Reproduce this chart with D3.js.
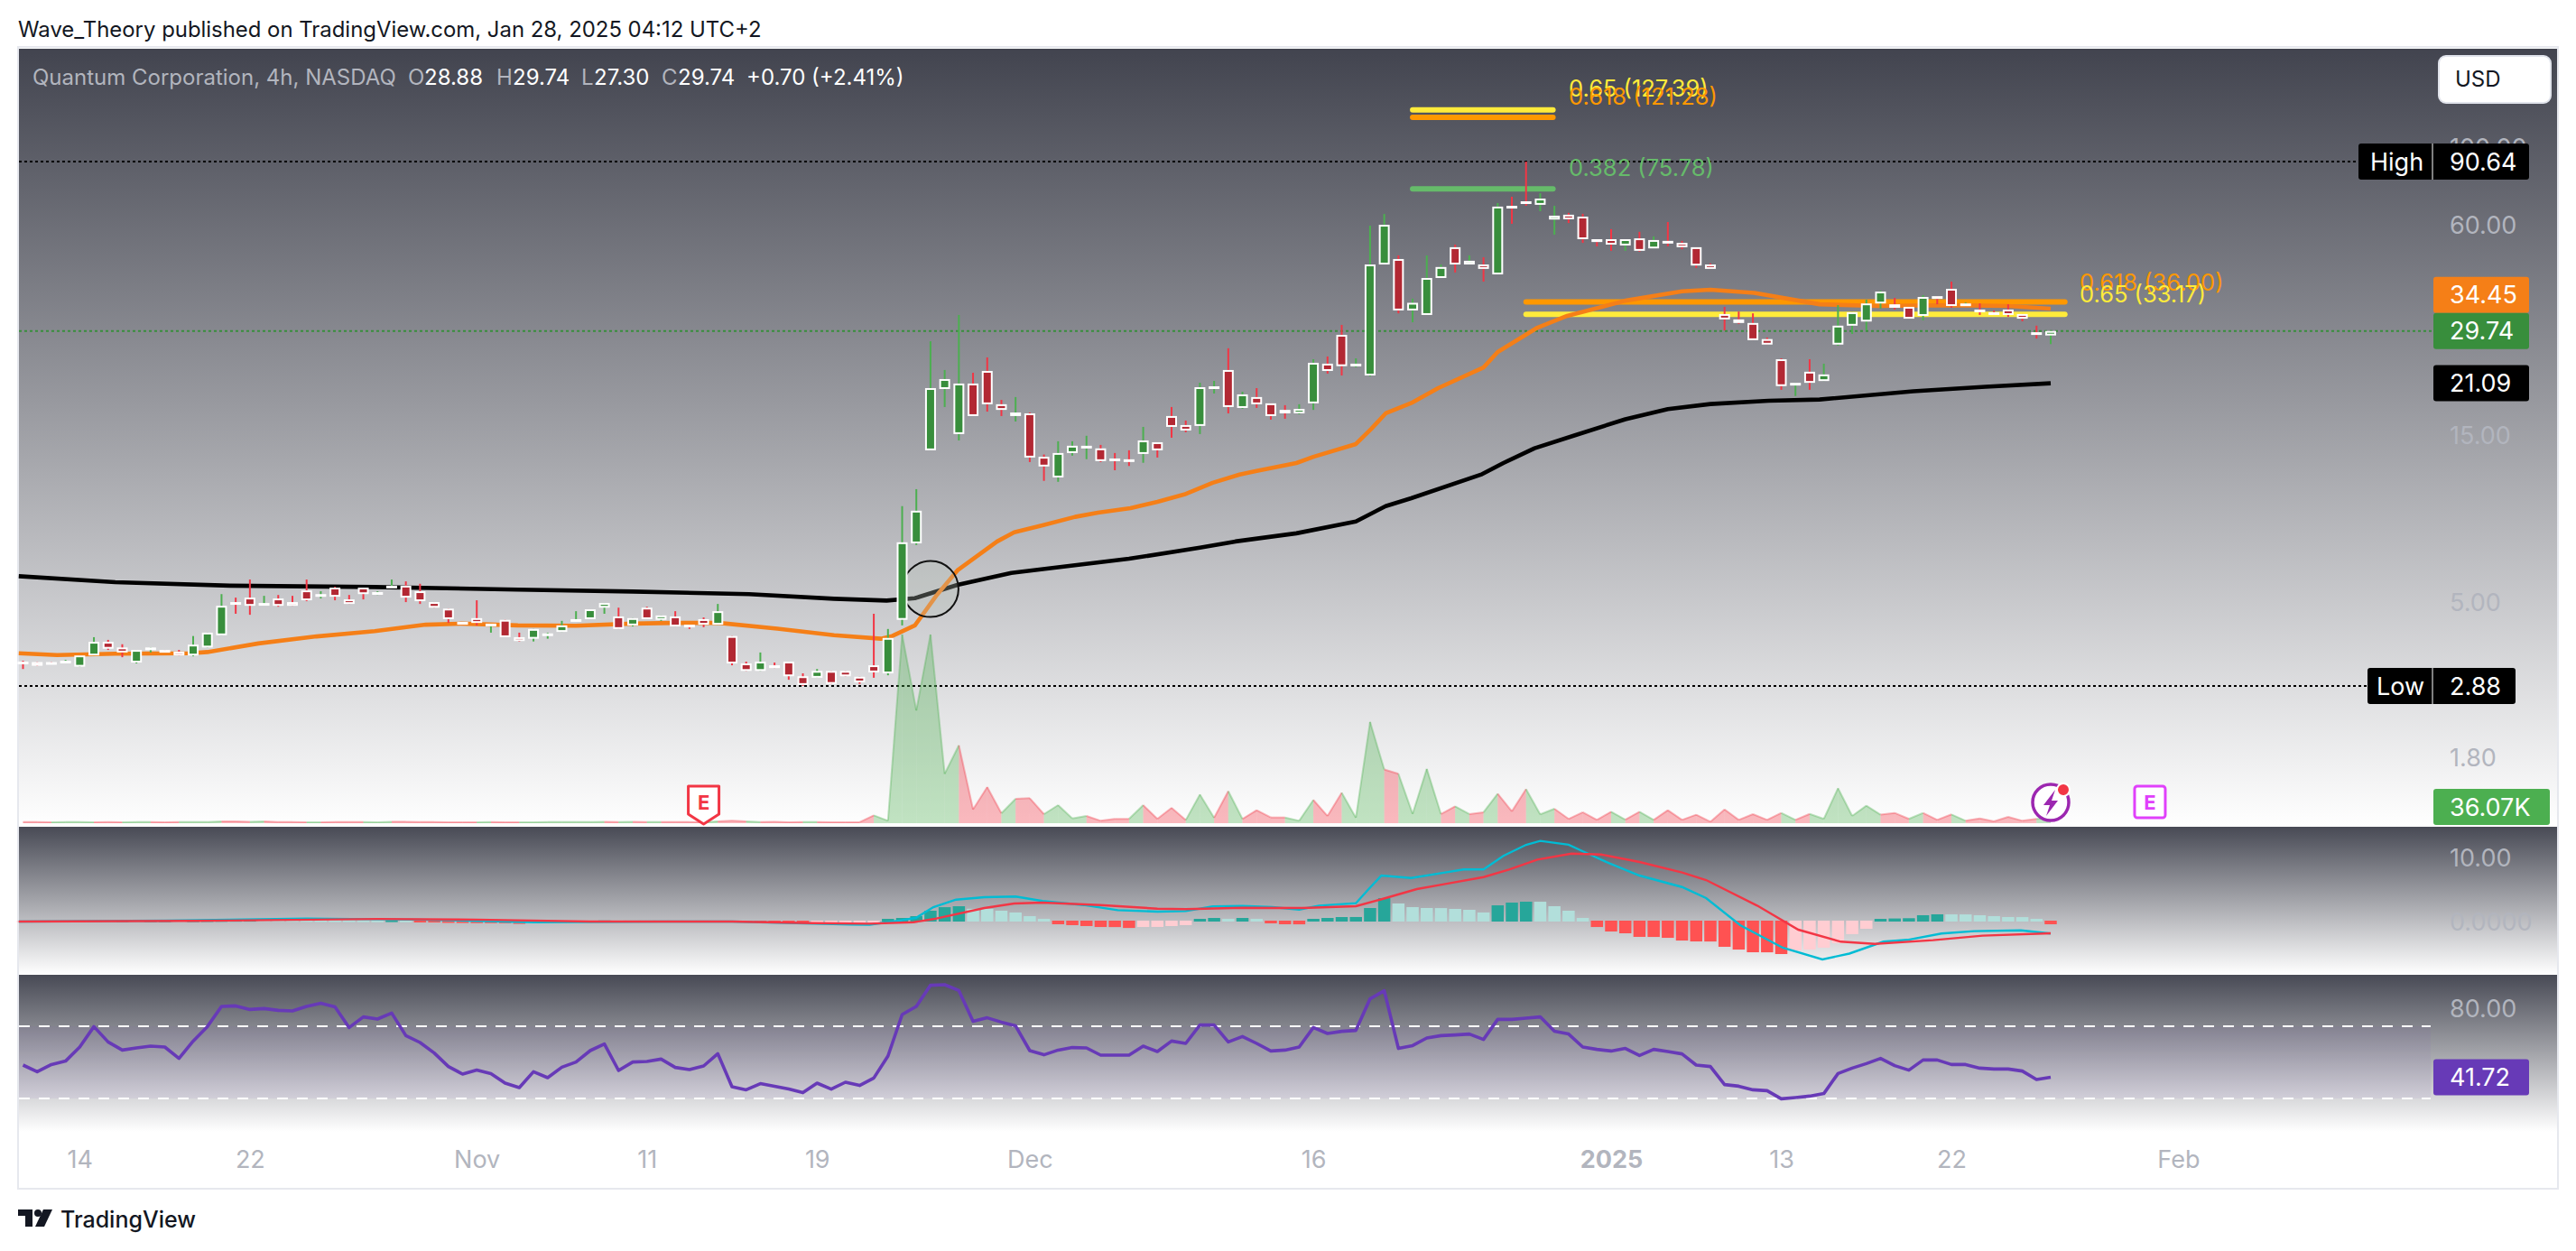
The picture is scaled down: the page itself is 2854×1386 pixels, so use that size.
<!DOCTYPE html>
<html>
<head>
<meta charset="utf-8">
<script src="https://cdn.jsdelivr.net/npm/d3@7/dist/d3.min.js"></script>
<style>
  body { margin: 0; background: #fff; }
  svg { display: block; font-family: Inter, "Liberation Sans", sans-serif; }
</style>
</head>
<body>
<script>
// QMCO 4h candles
var opens = [3.38,3.37,3.37,3.38,3.27,3.52,3.85,3.71,3.36,3.65,3.65,3.61,3.52,3.71,4.02,5.00,5.15,4.91,5.12,5.00,
  5.40,5.21,5.50,5.09,5.50,5.27,5.50,5.57,5.37,5.00,4.79,4.39,4.50,4.29,4.45,3.97,3.93,4.02,4.11,4.42,
  4.47,4.82,4.55,4.29,4.82,4.45,4.55,4.31,4.47,4.31,4.00,3.34,3.18,3.30,3.38,3.07,3.04,3.18,3.18,3.06,
  3.30,3.13,4.45,7.36,13.57,20.31,15.10,21.05,22.87,18.37,17.00,17.30,13.00,11.35,13.33,13.80,13.74,12.86,12.79,13.25,
  14.31,17.00,16.02,15.93,20.31,23.01,17.93,19.26,18.48,17.70,17.30,18.48,23.99,29.00,23.70,22.20,46.06,47.75,34.05,33.05,
  42.15,51.60,46.06,46.06,43.15,67.75,69.80,68.20,61.90,63.90,63.10,54.40,54.40,52.20,54.70,51.20,53.80,53.10,51.60,46.06,
  33.25,32.10,31.35,28.20,24.70,20.90,22.75,21.40,27.20,30.80,31.65,35.65,35.45,34.86,32.85,37.40,39.25,35.25,34.25,33.65,
  34.25,33.25,29.50,28.88];
var highs = [3.40,3.37,3.37,3.42,3.52,3.97,3.90,3.79,3.65,3.71,3.65,3.65,4.00,4.09,5.27,5.15,5.80,5.21,5.24,5.21,
  5.80,5.37,5.53,5.24,5.50,5.37,5.80,5.73,5.64,5.00,4.79,4.39,5.06,4.34,4.45,4.09,4.19,4.09,4.42,4.71,
  4.77,4.97,4.82,4.50,4.85,4.58,4.71,4.31,4.52,4.94,4.00,3.38,3.59,3.36,3.38,3.13,3.22,3.18,3.18,3.06,
  4.63,4.19,9.40,10.51,27.80,23.01,33.05,22.60,25.00,18.90,19.26,17.40,13.20,14.40,14.40,14.93,14.06,13.33,13.57,15.83,
  14.31,18.04,16.50,21.17,21.42,26.55,19.95,20.43,18.48,18.26,18.37,24.70,25.15,30.96,24.85,59.46,64.20,48.90,36.80,48.90,
  46.06,52.50,48.90,48.30,69.00,71.90,90.64,73.60,67.75,64.70,64.30,54.40,58.10,54.40,57.10,55.40,60.90,53.80,51.60,46.40,
  34.86,33.80,33.40,28.50,24.85,21.15,24.70,23.99,35.25,33.65,36.55,38.80,36.99,34.86,37.65,37.40,41.15,35.85,35.65,34.05,
  35.45,33.25,30.80,29.74];
var lows = [3.22,3.29,3.35,3.38,3.27,3.52,3.65,3.48,3.34,3.59,3.59,3.52,3.50,3.71,4.02,4.63,4.60,4.91,4.85,4.88,
  5.03,5.12,5.06,4.94,5.09,5.24,5.50,5.00,4.94,4.82,4.36,4.31,4.29,4.09,3.97,3.86,3.86,3.93,4.11,4.42,
  4.47,4.63,4.19,4.26,4.47,4.42,4.26,4.19,4.24,4.31,3.30,3.18,3.18,3.24,3.00,2.88,3.04,2.92,3.07,2.92,
  3.04,3.09,4.29,7.28,13.57,18.04,14.48,17.00,17.50,17.00,16.40,12.56,11.10,11.03,13.10,12.80,12.56,11.90,12.24,12.50,
  12.94,14.74,15.28,15.10,19.72,17.30,17.82,17.93,16.60,16.70,17.20,17.70,22.47,22.20,23.42,22.07,46.06,33.40,31.50,33.05,
  42.15,43.70,46.06,41.15,43.15,60.20,67.75,65.40,56.04,60.50,53.10,51.90,50.40,50.40,50.10,51.20,51.90,50.90,45.00,44.75,
  29.85,31.15,28.00,27.20,20.20,19.40,20.20,21.40,27.00,29.17,29.85,34.45,34.25,32.25,31.90,35.45,34.65,35.05,33.05,33.05,
  32.65,31.70,28.30,27.30];
var closes = [3.36,3.29,3.35,3.40,3.52,3.85,3.68,3.59,3.65,3.71,3.59,3.52,3.78,4.09,4.88,4.94,4.88,4.97,4.88,4.88,
  5.06,5.27,5.18,4.94,5.27,5.34,5.57,5.15,5.03,4.82,4.47,4.31,4.36,4.34,3.97,3.87,4.19,4.07,4.29,4.47,
  4.77,4.97,4.19,4.50,4.47,4.58,4.26,4.26,4.31,4.71,3.34,3.18,3.38,3.24,3.07,2.90,3.18,2.92,3.07,2.95,
  3.15,3.95,7.41,9.12,20.43,21.68,21.05,17.00,18.37,17.70,17.40,12.94,12.20,13.33,13.98,13.98,12.64,12.64,12.64,14.48,
  13.57,15.83,15.46,20.55,20.67,18.04,19.60,18.37,17.00,17.30,17.82,24.13,22.87,23.60,23.99,46.06,59.80,34.05,35.80,42.15,
  45.30,46.06,47.20,44.75,67.40,66.96,69.00,71.05,63.50,62.00,54.40,53.40,52.50,54.40,50.40,54.10,53.10,51.60,45.75,44.75,
  32.10,31.35,28.00,27.20,20.70,21.15,21.15,22.35,30.80,33.65,35.65,38.55,34.65,32.25,37.20,36.99,35.05,35.65,33.85,33.05,
  33.05,32.25,29.17,29.74];
// volume in thousands of shares
var volumes = [9,9,7,9,9,7,9,7,9,9,7,9,9,9,13,14,11,13,9,9,
  7,7,9,9,9,7,11,11,9,9,7,7,7,9,7,7,7,9,9,9,
  9,11,9,11,9,9,9,9,7,14,18,14,9,11,7,9,9,7,7,7,
  59,18,1421,849,1421,372,586,104,272,75,184,188,68,136,36,54,18,32,32,136,
  32,116,23,216,41,241,32,98,43,43,18,175,54,229,41,763,404,372,70,409,
  68,127,68,82,222,89,257,66,109,32,82,25,86,27,86,25,98,25,64,11,
  104,25,68,25,77,25,70,32,263,54,132,64,77,32,77,25,66,18,36,14,
  48,18,32,36.07];

var emaFastBars = [-0.3,2.4,6.5,11.8,13,16.6,20.7,24.8,28.4,30.9,34.9,39,43,45.9,49.1,53.2,57.2,60.5,61.3,62.9,
  64.4,65.9,68.7,69.9,71.9,74.2,75.8,78.1,80,81.9,83.9,85.8,87,89.8,91,94,95.1,96.1,98,99.8,
  103,104,106.8,108.9,113,117,119,122.1,126.7,130.8,135.9,140,143];
var emaFast = [3.57,3.53,3.56,3.57,3.60,3.81,3.99,4.13,4.31,4.34,4.29,4.28,4.34,4.36,4.36,4.20,4.02,3.93,4.00,4.29,
  5.21,6.16,7.45,7.91,8.29,8.76,9.00,9.27,9.67,10.15,10.96,11.57,11.85,12.48,13.00,14.14,15.65,17.30,18.60,20.43,
  23.40,25.90,30.40,32.85,36.30,38.60,39.00,38.20,35.45,35.05,35.25,35.05,34.45];
var emaSlowBars = [-0.3,6.5,14.6,24.8,34.9,43,51.2,57.2,60.9,62.9,65.9,69.7,72.2,78,83,85.5,89.8,94,96.1,97.9,
  102.9,104.4,106.6,109.5,113,116,119,123.1,126.7,133.3,138.4,143];
var emaSlow = [5.93,5.70,5.57,5.52,5.43,5.36,5.27,5.11,5.05,5.13,5.60,6.06,6.23,6.65,7.15,7.45,7.86,8.50,9.40,9.90,
  11.60,12.48,13.75,15.00,16.65,17.80,18.40,18.80,18.95,20.00,20.60,21.09];

var histValues = [-0.04,-0.04,-0.03,-0.02,0.01,0.02,0.02,0.03,0.03,0.04,0.05,0.05,0.06,0.08,0.10,0.12,0.13,
  0.12,0.11,0.10,0.09,0.08,0.07,0.06,0.05,0.03,0.06,0.03,
  -0.1,-0.14,-0.2,-0.22,-0.24,-0.25,-0.27,-0.36,-0.2,-0.12,-0.08,-0.06,-0.04,
  0.03,0.03,0.03,0.02,0.02,0.02,0.02,0.01,0.01,
  -0.05,-0.1,-0.12,-0.15,-0.17,-0.2,-0.18,-0.17,-0.16,-0.15,-0.12,
  0.28,0.42,0.7,1.55,2.1,2.25,1.85,1.83,1.55,1.27,0.7,0.28,-0.42,-0.56,-0.7,-0.85,-0.86,-1.0,-0.85,-0.84,
  -0.7,-0.56,0.28,0.42,0.28,0.42,0.28,-0.28,-0.42,-0.43,0.28,0.42,0.56,0.57,1.97,3.52,2.68,2.11,1.97,1.96,
  1.83,1.69,1.27,2.39,2.82,2.96,2.95,2.25,1.55,0.42,-0.85,-1.55,-1.83,-2.39,-2.4,-2.54,-2.96,-3.1,-3.11,-3.94,
  -4.37,-4.79,-4.8,-5.07,-4.5,-4.37,-4.08,-3.38,-1.97,-1.13,0.28,0.34,0.38,0.85,0.99,0.98,0.97,0.84,0.7,0.56,0.55,0.28,-0.42];

var macdBars = [-0.3,10,20,28,36,45,50,58.4,59.7,61.8,63,64.2,65.8,67.8,70,71.9,74.8,77.2,80,82,
  83.9,86,88.1,90,91.4,94,94.8,95.8,97.9,100.3,101.6,103,104.4,106,107,109,110.5,111.9,114,117,
  118.7,121.1,124.1,126.9,128.8,131.2,132.9,135.3,137.6,140.9,143];
var macdLine = [0,0.15,0.47,0.3,-0.1,0,0,-0.47,-0.5,0.14,0.6,2.25,3.42,3.8,3.9,3.2,2.58,1.78,1.55,1.64,
  2.35,2.44,2.25,1.87,2.49,2.86,4.83,7.18,6.8,7.65,8.13,8.13,10.24,11.97,12.58,12,10.46,9.06,7.18,5.39,
  3.66,-0.56,-4.08,-5.9,-5,-3.14,-2.86,-1.87,-1.5,-1.37,-1.87];
var signalBars = [-0.3,12,25,32,40,50,55.7,59.7,62.8,64.2,67.8,69.9,71.9,76,80,82,86,90.2,94,95.7,
  98.3,100.3,103,104.8,106.8,109.2,111.3,114,117,118.7,122.3,125.2,128.2,130.6,134.7,138.2,143];
var signalLine = [0,0.1,0.4,0.3,0,0,-0.24,-0.33,-0.1,0.38,2.11,2.82,2.96,2.58,2.01,1.93,2.15,2.11,2.39,3.42,
  5.07,5.87,6.94,8.13,9.67,10.6,10.46,9.3,7.65,6.48,2.49,-1.27,-3.14,-3.48,-2.9,-2.2,-1.83];

var rsiValues = [48.5,44.8,48.8,50.7,58.5,69.8,61.3,56.8,58,59,58.5,52.2,61.8,69.8,81,81.3,79.3,79.8,78.8,78.5,
  81,82.8,80.8,69.3,75.2,74,77.3,64.8,61,55.2,47.7,43.5,45.7,43.8,38.5,36,44.8,41.5,47.3,50.2,
  56.5,60.2,45.5,50.2,50.5,51.8,47.2,46,48,54.8,36.5,34.8,38.2,36.8,35.2,33.2,38.5,35.2,39,37.2,
  41.3,53.5,76.5,81,92.7,93,89.8,72.7,74.7,72.3,70.2,56.5,54.2,56.8,58.2,58,54,54,54,59,
  56,61.8,60.5,70.7,70.7,61.3,64.3,60.5,56.3,56.8,58.5,69.3,66,67.2,67.7,85.2,89.7,57.7,59.3,63.5,
  64.8,65.2,65.7,62.7,73.8,73.8,74.5,75.2,67.2,65.7,58.5,57.2,56.3,57.7,53.8,57.2,56,54.7,48.5,47.7,
  37.7,36.8,34.8,34.3,29.8,30.5,31.3,32.7,43.8,46.8,49.3,52.2,48.2,45.7,51.3,51.3,48.8,48.8,46.8,46.3,
  46.3,45.2,40.5,41.72];

var priceTicks = [100, 60, 20, 15, 5, 1.8];
var macdTicks = [10, 0];
var rsiTicks = [80];
var timeTickBars = [4, 16, 32, 44, 56, 71, 91, 112, 124, 136, 152];
var timeTickLabels = ["14", "22", "Nov", "11", "19", "Dec", "16", "2025", "13", "22", "Feb"];

var fibLabels = ["0.65 (127.39)", "0.618 (121.28)", "0.382 (75.78)", "0.618 (36.00)", "0.65 (33.17)"];
var fibValues = [127.39, 121.28, 75.78, 36.00, 33.17];
var fibFrom = [98, 98, 98, 106, 106];
var fibTo = [107.9, 107.9, 107.9, 144, 144];
var fibColors = ["#ffeb3b", "#ff9800", "#66bb6a", "#ff9800", "#ffeb3b"];

var barIndex = d3.range(opens.length);
var W = 2854, H = 1386;
var left = 20, right = 2833, axisX = 2714;
var main = { top: 54, bottom: 916 }, macdPane = { top: 916, bottom: 1080 }, rsiPane = { top: 1080, bottom: 1254 };

var x = d3.scaleLinear().domain([0, 143]).range([25.5, 2272]);
var y = d3.scaleLog().domain([90.64, 2.88]).range([179, 760]);
var yVol = d3.scaleLinear().domain([0, 1421]).range([912, 703]);
var yMacd = d3.scaleLinear().domain([0, 10]).range([1021, 950]);
var yRsi = d3.scaleLinear().domain([30, 70]).range([1217, 1137]);

var svg = d3.select("body").append("svg").attr("width", W).attr("height", H);
var defs = svg.append("defs");

function paneGradient(id, from) {
    var g = defs.append("linearGradient").attr("id", id).attr("x1", 0).attr("y1", 0).attr("x2", 0).attr("y2", 1);
    g.append("stop").attr("offset", 0).attr("stop-color", from);
    g.append("stop").attr("offset", 1).attr("stop-color", "#ffffff");
}
paneGradient("mainBg", "#42444f");
paneGradient("macdBg", "#484a55");
paneGradient("rsiBg", "#484a55");

svg.append("rect").attr("width", W).attr("height", H).attr("fill", "#fff");
svg.append("rect").attr("x", left).attr("y", 52).attr("width", right - left + 1).attr("height", 1265)
    .attr("fill", "none").attr("stroke", "#e6e8ee").attr("stroke-width", 2);

svg.append("rect").attr("x", left + 1).attr("y", main.top).attr("width", right - left - 1).attr("height", main.bottom - main.top).attr("fill", "url(#mainBg)");
svg.append("rect").attr("x", left + 1).attr("y", macdPane.top).attr("width", right - left - 1).attr("height", macdPane.bottom - macdPane.top).attr("fill", "url(#macdBg)");
svg.append("rect").attr("x", left + 1).attr("y", rsiPane.top).attr("width", right - left - 1).attr("height", rsiPane.bottom - rsiPane.top).attr("fill", "url(#rsiBg)");

// price scale labels sit under the coloured boxes
function drawAxis(axis) {
    var g = svg.append("g").attr("transform", "translate(" + axisX + ",1)").call(axis);
    g.select(".domain").remove();
    g.selectAll("text").attr("fill", "#b2b5be").attr("font-size", 27).attr("font-family", "Inter").attr("x", 0);
    return g;
}
drawAxis(d3.axisRight(y).tickValues(priceTicks).tickSize(0).tickFormat(d3.format(".2f")));
drawAxis(d3.axisRight(yMacd).tickValues(macdTicks).tickSize(0).tickFormat(d => d === 0 ? "0.0000" : d3.format(".2f")(d)));
drawAxis(d3.axisRight(yRsi).tickValues(rsiTicks).tickSize(0).tickFormat(d3.format(".2f")));

var timeAxis = svg.append("g").attr("transform", "translate(0,1272)")
    .call(d3.axisBottom(x).tickValues(timeTickBars).tickSize(0).tickFormat((d, i) => timeTickLabels[i]));
timeAxis.select(".domain").remove();
timeAxis.selectAll("text").attr("fill", "#b2b5be").attr("font-size", 27).attr("font-family", "Inter")
    .attr("font-weight", d => d === 112 ? 700 : 400);

// dotted high / low / last price lines
function dotted(value, toX, color) {
    svg.append("line").attr("x1", left + 1).attr("x2", toX).attr("y1", y(value)).attr("y2", y(value))
        .attr("stroke", color).attr("stroke-width", 2).attr("stroke-dasharray", "3 3");
}
dotted(90.64, 2613, "#000");
dotted(2.88, 2623, "#000");
dotted(29.74, 2696, "#388e3c");

// volume area, one segment per bar, coloured by that bar's candle
var volArea = d3.area().x(d => x(d)).y0(yVol(0)).y1(d => yVol(volumes[d]));
var volLine = d3.line().x(d => x(d)).y(d => yVol(volumes[d]));
var volSegs = barIndex.slice(1).map(i => ({ pts: [i - 1, i], up: closes[i] >= opens[i] }));
svg.append("g").selectAll("path").data(volSegs).enter().append("path")
    .attr("d", d => volArea(d.pts))
    .attr("fill", d => d.up ? "#4caf50" : "#f23645")
    .attr("fill-opacity", 0.35);
svg.append("g").selectAll("path").data(volSegs).enter().append("path")
    .attr("d", d => volLine(d.pts))
    .attr("fill", "none")
    .attr("stroke", d => d.up ? "#4caf50" : "#f23645")
    .attr("stroke-opacity", 0.35)
    .attr("stroke-width", 2);

// fib levels
svg.append("g").selectAll("line").data(fibValues).enter().append("line")
    .attr("x1", (d, i) => x(fibFrom[i]))
    .attr("x2", (d, i) => x(fibTo[i]))
    .attr("y1", d => y(d))
    .attr("y2", d => y(d))
    .attr("stroke", (d, i) => fibColors[i])
    .attr("stroke-width", 6)
    .attr("stroke-linecap", "round");
var fibText = [[1738, 98], [1738, 107], [1738, 186], [2304, 313], [2304, 326]];
svg.append("g").selectAll("text").data(fibLabels).enter().append("text")
    .attr("x", (d, i) => fibText[i][0])
    .attr("y", (d, i) => fibText[i][1])
    .attr("dy", "0.36em")
    .attr("font-size", 25.5)
    .attr("fill", (d, i) => fibColors[i])
    .text(d => d);

// emas
var emaLine = d3.line().x(d => x(d[0])).y(d => y(d[1]));
svg.append("path").datum(d3.zip(emaSlowBars, emaSlow)).attr("d", emaLine).attr("fill", "none")
    .attr("stroke", "#000").attr("stroke-width", 4.6).attr("stroke-linejoin", "round");
svg.append("path").datum(d3.zip(emaFastBars, emaFast)).attr("d", emaLine).attr("fill", "none")
    .attr("stroke", "#f57f17").attr("stroke-width", 4.6).attr("stroke-linejoin", "round");

// circle annotation at the crossing
svg.append("circle").attr("cx", x(64)).attr("cy", y(5.45)).attr("r", 31)
    .attr("fill", "#b9c4bb").attr("fill-opacity", 0.3).attr("stroke", "#111").attr("stroke-width", 2);

// candles
var candles = svg.append("g").selectAll("g").data(barIndex).enter().append("g");
candles.append("line")
    .attr("x1", d => x(d)).attr("x2", d => x(d))
    .attr("y1", d => y(highs[d])).attr("y2", d => y(lows[d]))
    .attr("stroke", d => closes[d] >= opens[d] ? "#4caf50" : "#f23645")
    .attr("stroke-width", 2);
function bodyTop(d) { return y(Math.max(opens[d], closes[d])); }
function bodyH(d) { return Math.max(3, y(Math.min(opens[d], closes[d])) - bodyTop(d)); }
candles.append("rect")
    .attr("x", d => x(d) - 6).attr("width", 12)
    .attr("y", bodyTop).attr("height", bodyH)
    .attr("fill", "#fff");
candles.filter(d => bodyH(d) > 4).append("rect")
    .attr("x", d => x(d) - 4).attr("width", 8)
    .attr("y", d => bodyTop(d) + 2).attr("height", d => bodyH(d) - 4)
    .attr("fill", d => closes[d] >= opens[d] ? "#388e3c" : "#b22833");

// macd
var histW = 13.5;
svg.append("g").selectAll("rect").data(barIndex).enter().append("rect")
    .attr("x", d => x(d) - histW / 2)
    .attr("width", histW)
    .attr("y", d => histValues[d] >= 0 ? yMacd(histValues[d]) - 1 : yMacd(0) - 1)
    .attr("height", d => Math.max(2, Math.abs(yMacd(histValues[d]) - yMacd(0)) + 1))
    .attr("fill", function (d) {
        var v = histValues[d], prev = d > 0 ? histValues[d - 1] : v;
        if (v >= 0) return v > prev ? "#26a69a" : "#b2dfdb";
        return v < prev ? "#ff5252" : "#ffcdd2";
    });
var macdPath = d3.line().x(d => x(d[0])).y(d => yMacd(d[1]));
svg.append("path").datum(d3.zip(macdBars, macdLine)).attr("d", macdPath).attr("fill", "none")
    .attr("stroke", "#00bcd4").attr("stroke-width", 2.4);
svg.append("path").datum(d3.zip(signalBars, signalLine)).attr("d", macdPath).attr("fill", "none")
    .attr("stroke", "#f23645").attr("stroke-width", 2.4);

// rsi
svg.append("rect").attr("x", left + 1).attr("width", 2693 - left - 1)
    .attr("y", yRsi(70)).attr("height", yRsi(30) - yRsi(70))
    .attr("fill", "#7e57c2").attr("fill-opacity", 0.08);
[70, 30].forEach(function (level) {
    svg.append("line").attr("x1", left + 1).attr("x2", 2693).attr("y1", yRsi(level)).attr("y2", yRsi(level))
        .attr("stroke", "#fff").attr("stroke-width", 2).attr("stroke-dasharray", "12 10");
});
svg.append("path").datum(rsiValues)
    .attr("d", d3.line().x((d, i) => x(i)).y(d => yRsi(d)))
    .attr("fill", "none").attr("stroke", "#673ab7").attr("stroke-width", 3.6).attr("stroke-linejoin", "round");

// earnings / dividend flags
function flagE(cx, top, color, pointed) {
    var g = svg.append("g");
    if (pointed) {
        g.append("path").attr("d", "M" + (cx - 17) + "," + top + "h34v31l-17,11l-17,-11z")
            .attr("fill", "#fff").attr("stroke", color).attr("stroke-width", 3).attr("stroke-linejoin", "round");
    } else {
        g.append("rect").attr("x", cx - 17).attr("y", top).attr("width", 34).attr("height", 35).attr("rx", 3)
            .attr("fill", "#fff").attr("stroke", color).attr("stroke-width", 3);
    }
    g.append("text").attr("x", cx).attr("y", top + 18).attr("dy", "0.36em").attr("text-anchor", "middle")
        .attr("font-size", 22).attr("font-weight", 700).attr("fill", color).text("E");
}
flagE(x(48), 871, "#f23645", true);
flagE(x(150), 871, "#e040fb", false);

var boltX = x(143), boltY = 889;
svg.append("circle").attr("cx", boltX).attr("cy", boltY).attr("r", 20).attr("fill", "#fff")
    .attr("stroke", "#9c27b0").attr("stroke-width", 3.5);
svg.append("path").attr("d", "M" + (boltX + 5) + "," + (boltY - 14) + "l-13,17h7l-4,12l13,-17h-7z").attr("fill", "#9c27b0");
svg.append("circle").attr("cx", boltX + 14).attr("cy", boltY - 14).attr("r", 7).attr("fill", "#f23645").attr("stroke", "#fff").attr("stroke-width", 2);

// value boxes on the scale, the orange one is pushed up clear of the last price
function priceBox(cy, label, color, width) {
    svg.append("rect").attr("x", 2696).attr("y", cy - 20).attr("width", width || 106).attr("height", 40).attr("rx", 3).attr("fill", color);
    svg.append("text").attr("x", axisX).attr("y", cy).attr("dy", "0.36em").attr("font-size", 27).attr("fill", "#fff").text(label);
}
function titledBox(cy, title, titleX, boxX, boxEnd, label) {
    svg.append("rect").attr("x", boxX).attr("y", cy - 20).attr("width", boxEnd - boxX).attr("height", 40).attr("rx", 3).attr("fill", "#000");
    svg.append("line").attr("x1", 2695).attr("x2", 2695).attr("y1", cy - 20).attr("y2", cy + 20).attr("stroke", "#fff").attr("stroke-width", 1);
    svg.append("text").attr("x", titleX).attr("y", cy).attr("dy", "0.36em").attr("font-size", 27).attr("fill", "#fff").text(title);
    svg.append("text").attr("x", axisX).attr("y", cy).attr("dy", "0.36em").attr("font-size", 27).attr("fill", "#fff").text(label);
}
titledBox(y(90.64), "High", 2626, 2613, 2802, "90.64");
titledBox(y(2.88), "Low", 2633, 2623, 2787, "2.88");
priceBox(y(29.74) - 40, "34.45", "#f57f17");
priceBox(y(29.74), "29.74", "#388e3c");
priceBox(y(21.09), "21.09", "#000");
priceBox(894, "36.07K", "#4caf50", 129);
priceBox(yRsi(41.72), "41.72", "#673ab7");

// USD button
svg.append("rect").attr("x", 2702).attr("y", 62).attr("width", 124).attr("height", 52).attr("rx", 8)
    .attr("fill", "#fff").attr("stroke", "#e0e3eb").attr("stroke-width", 2);
svg.append("text").attr("x", 2720).attr("y", 87).attr("dy", "0.36em").attr("font-size", 24).attr("fill", "#131722").text("USD");

// titles
svg.append("text").attr("x", 20).attr("y", 32).attr("dy", "0.36em").attr("font-size", 23.9).attr("fill", "#131722")
    .text("Wave_Theory published on TradingView.com, Jan 28, 2025 04:12 UTC+2");
svg.append("text").attr("x", 36).attr("y", 85).attr("dy", "0.36em").attr("font-size", 24).attr("fill", "#b2b5be")
    .text("Quantum Corporation, 4h, NASDAQ");
var legendKeys = ["O", "H", "L", "C"], legendKeyX = [452, 550, 644, 733];
var legendVals = ["28.88", "29.74", "27.30", "29.74"], legendValX = [470, 568, 658, 751];
legendKeys.forEach(function (k, i) {
    svg.append("text").attr("x", legendKeyX[i]).attr("y", 85).attr("dy", "0.36em").attr("font-size", 24).attr("fill", "#b2b5be").text(k);
    svg.append("text").attr("x", legendValX[i]).attr("y", 85).attr("dy", "0.36em").attr("font-size", 24).attr("fill", "#fff").text(legendVals[i]);
});
svg.append("text").attr("x", 827).attr("y", 85).attr("dy", "0.36em").attr("font-size", 24).attr("fill", "#fff").text("+0.70 (+2.41%)");

// logo
var logo = svg.append("g").attr("fill", "#131722");
logo.append("path").attr("d", "M20,1340h16v19h-8v-12h-8z");
logo.append("circle").attr("cx", 42).attr("cy", 1344).attr("r", 4);
logo.append("path").attr("d", "M48,1340h10l-9,19h-10z");
svg.append("text").attr("x", 67).attr("y", 1351).attr("dy", "0.36em").attr("font-size", 25).attr("font-weight", 500).attr("fill", "#131722").text("TradingView");
</script>
</body>
</html>
